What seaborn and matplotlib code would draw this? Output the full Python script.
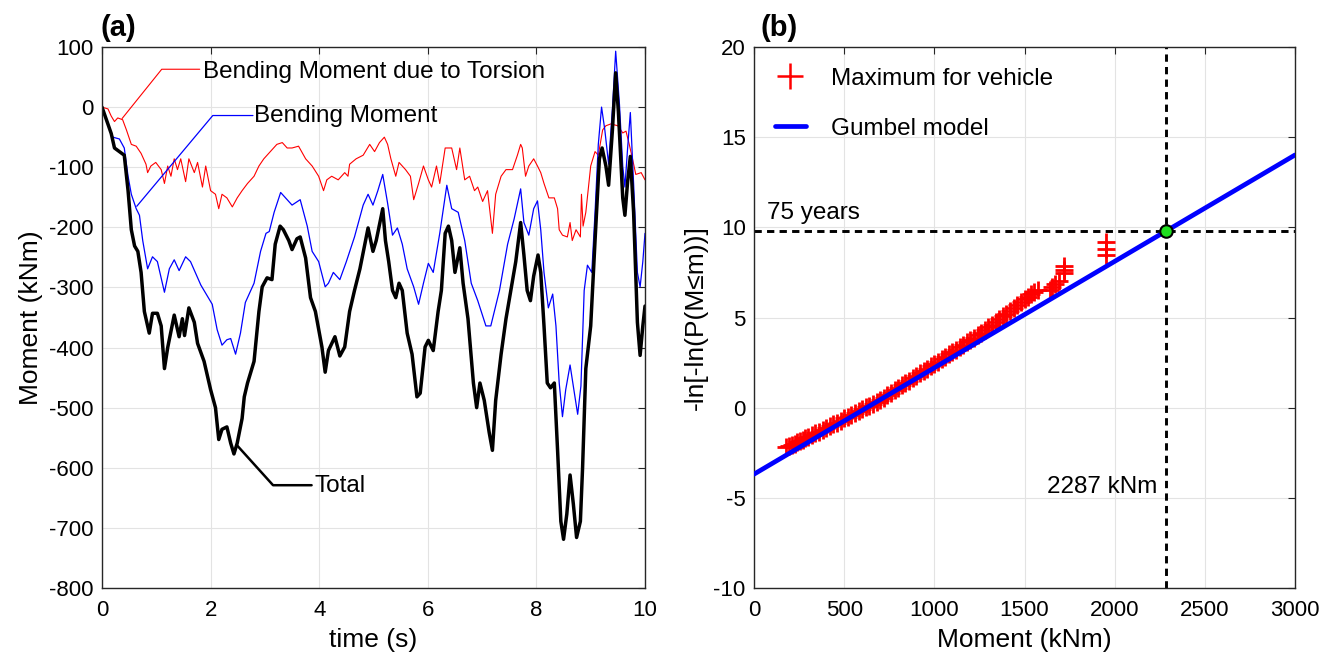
import numpy as np
import pandas as pd
import matplotlib
matplotlib.use("Agg")
import matplotlib.pyplot as plt
from matplotlib.lines import Line2D
import seaborn as sns

# ---------------- data ----------------
t_torsion = [0, 0.11, 0.17, 0.23, 0.29, 0.38, 0.45, 0.54, 0.63, 0.72,
             0.81, 0.84, 0.90, 0.99, 1.09, 1.15, 1.21, 1.27, 1.33, 1.39,
             1.45, 1.54, 1.60, 1.70, 1.76, 1.85, 1.91, 2.0, 2.09, 2.15,
             2.21, 2.30, 2.40, 2.49, 2.58, 2.68, 2.80, 2.89, 2.98, 3.10,
             3.22, 3.32, 3.41, 3.50, 3.62, 3.75, 3.87, 3.99, 4.08, 4.14,
             4.23, 4.35, 4.47, 4.53, 4.56, 4.68, 4.81, 4.93, 5.02, 5.11,
             5.20, 5.26, 5.32, 5.41, 5.47, 5.59, 5.68, 5.74, 5.83, 5.92,
             6.01, 6.07, 6.16, 6.22, 6.32, 6.44, 6.53, 6.59, 6.68, 6.77,
             6.86, 6.92, 7.01, 7.10, 7.19, 7.25, 7.35, 7.44, 7.56, 7.65,
             7.71, 7.74, 7.80, 7.86, 7.95, 8.02, 8.08, 8.14, 8.23, 8.33,
             8.39, 8.42, 8.48, 8.57, 8.62, 8.66, 8.73, 8.81, 8.83, 8.86,
             8.91, 9.00, 9.08, 9.14, 9.22, 9.28, 9.37, 9.50, 9.59, 9.65,
             9.71, 9.77, 9.83, 9.93, 10.0]
m_torsion = [0, -3, -15, -24, -18, -21, -38, -62, -65, -77,
             -95, -109, -98, -92, -104, -127, -98, -115, -86, -104,
             -86, -124, -86, -109, -92, -133, -98, -139, -145, -169,
             -145, -151, -166, -151, -139, -127, -115, -98, -86, -74,
             -62, -59, -68, -68, -65, -86, -98, -115, -139, -121,
             -115, -121, -109, -115, -95, -86, -80, -62, -74, -59,
             -50, -62, -86, -115, -92, -104, -115, -154, -127, -98,
             -121, -133, -98, -127, -68, -68, -104, -68, -121, -115,
             -139, -133, -157, -139, -210, -145, -115, -104, -104, -80,
             -62, -68, -115, -98, -86, -98, -109, -127, -151, -151,
             -169, -204, -213, -216, -192, -222, -204, -216, -145, -198,
             -175, -98, -74, -80, -38, -31, -28, -31, -43, -40,
             -62, -86, -112, -109, -121]

t_bending = [0, 0.11, 0.20, 0.32, 0.41, 0.48, 0.54, 0.63, 0.69, 0.75,
             0.84, 0.93, 1.02, 1.15, 1.24, 1.33, 1.42, 1.54, 1.63, 1.82,
             2.03, 2.12, 2.21, 2.30, 2.37, 2.46, 2.55, 2.64, 2.80, 2.92,
             3.02, 3.08, 3.17, 3.29, 3.38, 3.50, 3.65, 3.78, 3.87, 3.99,
             4.11, 4.17, 4.26, 4.38, 4.50, 4.65, 4.81, 4.90, 4.99, 5.08,
             5.17, 5.26, 5.35, 5.44, 5.53, 5.62, 5.74, 5.83, 5.92, 6.01,
             6.10, 6.22, 6.35, 6.44, 6.56, 6.68, 6.80, 6.92, 7.07, 7.16,
             7.32, 7.47, 7.59, 7.71, 7.77, 7.86, 7.95, 8.02, 8.08, 8.14,
             8.22, 8.30, 8.36, 8.42, 8.48, 8.54, 8.62, 8.70, 8.76, 8.82,
             8.88, 8.94, 9.02, 9.08, 9.14, 9.20, 9.26, 9.33, 9.40, 9.46,
             9.53, 9.59, 9.63, 9.68, 9.73, 9.79, 9.86, 9.91, 9.96, 10.0]
m_bending = [0, -27, -50, -53, -68, -115, -145, -169, -180, -222,
             -269, -249, -257, -308, -269, -254, -272, -249, -257, -296,
             -328, -370, -396, -387, -385, -411, -376, -325, -293, -240,
             -210, -207, -175, -142, -151, -163, -154, -198, -240, -257,
             -299, -293, -275, -287, -257, -216, -163, -145, -163, -139,
             -112, -160, -213, -201, -228, -269, -299, -328, -293, -260,
             -275, -210, -130, -169, -175, -222, -293, -322, -364, -364,
             -305, -228, -186, -136, -192, -213, -169, -156, -204, -275,
             -334, -311, -364, -459, -515, -470, -429, -476, -511, -464,
             -305, -263, -275, -175, -62, 0, -38, -95, -3, 93,
             4, -98, -133, -68, -9, -127, -275, -299, -257, -210]

t_total = [0, 0.17, 0.23, 0.41, 0.48, 0.54, 0.60, 0.66, 0.72, 0.78,
           0.84, 0.87, 0.93, 1.02, 1.09, 1.15, 1.21, 1.33, 1.42, 1.48,
           1.52, 1.60, 1.70, 1.76, 1.88, 2.0, 2.09, 2.15, 2.21, 2.30,
           2.37, 2.43, 2.49, 2.58, 2.62, 2.68, 2.80, 2.89, 2.95, 3.04,
           3.13, 3.19, 3.28, 3.34, 3.44, 3.50, 3.59, 3.65, 3.75, 3.84,
           3.93, 4.05, 4.11, 4.17, 4.29, 4.38, 4.47, 4.56, 4.65, 4.75,
           4.90, 4.99, 5.05, 5.17, 5.22, 5.28, 5.35, 5.41, 5.47, 5.53,
           5.62, 5.71, 5.80, 5.86, 5.95, 6.01, 6.10, 6.19, 6.25, 6.32,
           6.38, 6.44, 6.50, 6.59, 6.65, 6.74, 6.84, 6.90, 6.96, 7.04,
           7.13, 7.19, 7.25, 7.35, 7.44, 7.53, 7.62, 7.71, 7.77, 7.83,
           7.89, 7.95, 8.03, 8.08, 8.14, 8.20, 8.26, 8.33, 8.39, 8.45,
           8.50, 8.56, 8.62, 8.68, 8.74, 8.81, 8.85, 8.91, 9.00, 9.08,
           9.16, 9.21, 9.28, 9.33, 9.40, 9.46, 9.51, 9.59, 9.63, 9.68,
           9.73, 9.79, 9.86, 9.91, 9.96, 10.0]
m_total = [0, -44, -68, -80, -139, -204, -231, -240, -275, -340,
           -364, -376, -343, -343, -364, -435, -400, -346, -382, -352,
           -380, -334, -358, -393, -423, -470, -500, -553, -536, -532,
           -559, -577, -559, -518, -482, -459, -423, -340, -299, -284,
           -287, -228, -198, -204, -222, -237, -219, -216, -251, -317,
           -340, -399, -441, -405, -382, -414, -399, -340, -305, -269,
           -201, -240, -222, -169, -222, -257, -305, -317, -293, -305,
           -376, -411, -482, -476, -399, -388, -405, -340, -305, -210,
           -198, -222, -275, -234, -293, -352, -459, -500, -459, -488,
           -541, -571, -488, -411, -352, -305, -257, -192, -246, -305,
           -322, -281, -246, -275, -364, -459, -467, -459, -571, -689,
           -719, -677, -612, -660, -716, -689, -601, -435, -364, -222,
           -86, -68, -98, -130, -38, 57, -8, -151, -180, -124,
           -82, -175, -358, -413, -364, -331]

# Gumbel-plot points (moment in kNm, reduced variate) read along the red band
vehicle_moment = [180, 195, 210, 225, 240, 255, 270, 285, 300, 320,
                  340, 360, 380, 400, 420, 440, 460, 480, 500, 520,
                  540, 560, 580, 600, 620, 640, 660, 680, 700, 720,
                  740, 760, 780, 800, 820, 840, 860, 880, 900, 920,
                  940, 960, 980, 1000, 1020, 1040, 1060, 1080, 1100, 1120,
                  1140, 1160, 1180, 1200, 1220, 1240, 1260, 1280, 1300, 1320,
                  1340, 1360, 1380, 1400, 1420, 1440, 1460, 1480, 1500, 1520,
                  1535, 1555, 1575, 1640, 1655, 1670, 1690, 1720, 1720, 1720,
                  1950, 1950, 1950]
vehicle_gumbel_y = [-2.2, -2.15, -2.05, -2.0, -1.92, -1.85, -1.78, -1.7, -1.63, -1.53,
                    -1.43, -1.33, -1.23, -1.13, -1.03, -0.93, -0.83, -0.73, -0.6, -0.5,
                    -0.4, -0.3, -0.2, -0.1, 0.01, 0.12, 0.23, 0.34, 0.45, 0.56,
                    0.7, 0.83, 0.96, 1.1, 1.23, 1.37, 1.5, 1.64, 1.77, 1.9,
                    2.04, 2.17, 2.3, 2.43, 2.56, 2.7, 2.83, 2.96, 3.09, 3.22,
                    3.36, 3.49, 3.62, 3.75, 3.88, 4.02, 4.15, 4.3, 4.45, 4.6,
                    4.75, 4.9, 5.06, 5.22, 5.38, 5.54, 5.7, 5.86, 6.0, 6.15,
                    6.3, 6.4, 6.5, 6.55, 6.7, 6.85, 7.0, 7.45, 7.65, 7.85,
                    8.45, 8.8, 9.2]

gumbel_mu = 625.0      # location (kNm)
gumbel_beta = 169.5    # scale (kNm)
gumbel_range = [0, 3000]
m_75yr = 2287          # kNm

# ---------------- style ----------------
sns.set_theme(style="whitegrid")
plt.rcParams['font.family'] = ['Liberation Sans', 'DejaVu Sans']
plt.rcParams['axes.unicode_minus'] = False
plt.rcParams['text.color'] = 'black'
plt.rcParams['axes.labelcolor'] = 'black'

W, H = 1323, 657
fig = plt.figure(figsize=(W / 100, H / 100), dpi=100)
axL = fig.add_axes([102 / W, 1 - 588 / H, (645 - 102) / W, (588 - 47) / H])
axR = fig.add_axes([754 / W, 1 - 588 / H, (1295 - 754) / W, (588 - 47) / H])

SPINE = '#262626'
for ax in (axL, axR):
    ax.set_facecolor('white')
    ax.grid(True, color='#e3e3e3', lw=0.8)
    for s in ax.spines.values():
        s.set_visible(True)
        s.set_color(SPINE)
        s.set_linewidth(1.0)
    ax.tick_params(direction='in', length=5, width=0.8, top=True, right=True,
                   color=SPINE, labelcolor='black', labelsize=16, pad=6)
    ax.tick_params(axis='x', pad=9)
    ax.set_axisbelow(True)

# ---------------- panel (a) ----------------
sns.lineplot(x=t_torsion, y=m_torsion, ax=axL, color='red', lw=0.8,
             estimator=None, sort=False)
sns.lineplot(x=t_bending, y=m_bending, ax=axL, color='blue', lw=0.9,
             estimator=None, sort=False)
sns.lineplot(x=t_total, y=m_total, ax=axL, color='black', lw=2.5,
             estimator=None, sort=False)

axL.set_xlim(0, 10)
axL.set_ylim(-800, 100)
axL.set_xticks(range(0, 11, 2))
axL.set_yticks(range(-800, 101, 100))
axL.set_xlabel('time (s)', fontsize=19, labelpad=5)
axL.set_ylabel('Moment (kNm)', fontsize=19, labelpad=4)

# annotation leaders
axL.plot([0.37, 1.10, 1.80], [-19, 63, 63], color='red', lw=0.8)
axL.text(1.86, 58, 'Bending Moment due to Torsion', fontsize=17.5,
         va='center', ha='left')
axL.plot([0.64, 2.04, 2.78], [-165, -14, -14], color='blue', lw=0.9)
axL.text(2.80, -15.5, 'Bending Moment', fontsize=17.5, va='center', ha='left')
axL.plot([2.48, 3.15, 3.86], [-562, -629, -629], color='black', lw=1.8)
axL.text(3.92, -630, 'Total', fontsize=17.5, va='center', ha='left')

# ---------------- panel (b) ----------------
gx = np.array(gumbel_range, dtype=float)
gy = (gx - gumbel_mu) / gumbel_beta
y_75yr = (m_75yr - gumbel_mu) / gumbel_beta

axR.axhline(y_75yr, color='black', lw=2.1, ls=(0, (2.5, 1.8)), zorder=2)
axR.axvline(m_75yr, color='black', lw=2.1, ls=(0, (2.5, 1.8)), zorder=2)
sns.scatterplot(x=vehicle_moment, y=vehicle_gumbel_y, ax=axR, marker='+',
                color='red', s=150, linewidth=2.0, zorder=3)
sns.lineplot(x=gx, y=gy, ax=axR, color='blue', lw=3.4, zorder=4)
axR.plot([m_75yr], [y_75yr], 'o', ms=9, mfc='#1fe01f', mec='black',
         mew=1.5, zorder=5)

axR.set_xlim(0, 3000)
axR.set_ylim(-10, 20)
axR.set_xticks(range(0, 3001, 500))
axR.set_yticks(range(-10, 21, 5))
axR.set_xlabel('Moment (kNm)', fontsize=19, labelpad=5)
axR.set_ylabel('-ln[-ln(P(M≤m))]', fontsize=19, labelpad=4)

axR.text(70, y_75yr + 0.97, '75 years', fontsize=17.5, va='center', ha='left')
axR.text(2237, -4.4, f'{m_75yr} kNm', fontsize=17.5, va='center', ha='right')

handles = [Line2D([], [], color='red', marker='+', ls='none', ms=19, mew=1.8),
           Line2D([], [], color='blue', lw=3.4)]
axR.legend(handles, ['Maximum for vehicle', 'Gumbel model'], loc='upper left',
           bbox_to_anchor=(0.0, 1.0), frameon=False, fontsize=17.5,
           handlelength=1.3, handletextpad=1.0, labelspacing=1.15,
           borderaxespad=0.55, borderpad=0.3)

fig.text(100 / W, 1 - 28 / H, '(a)', fontsize=21, fontweight='bold',
         va='center', ha='left')
fig.text(760 / W, 1 - 28 / H, '(b)', fontsize=21, fontweight='bold',
         va='center', ha='left')

fig.savefig('out.png', dpi=100, facecolor='white')
